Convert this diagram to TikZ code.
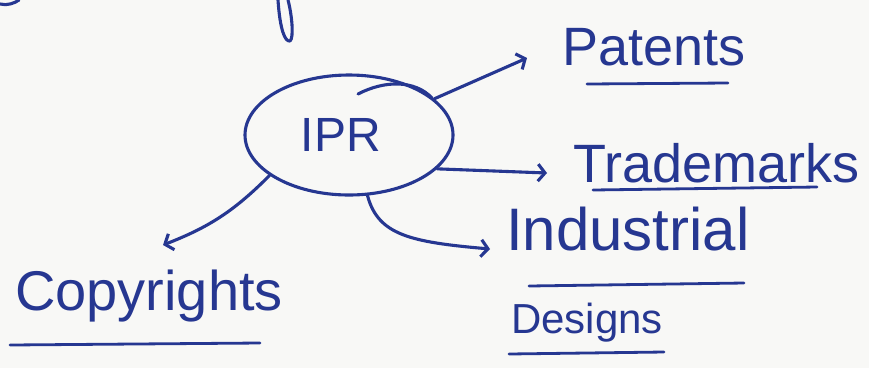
\documentclass[tikz,border=0pt]{standalone}
\usepackage{fontspec}
\setmainfont{Liberation Sans}
\usetikzlibrary{shapes.geometric,arrows.meta}
\definecolor{penblue}{RGB}{38,55,145}
\definecolor{paper}{RGB}{248,248,246}
\begin{document}
\begin{tikzpicture}[x=1pt,y=-1pt,
  pen/.style={draw=penblue,line width=3.1pt,line cap=round,line join=round},
  arr/.style={pen,-{Straight Barb[length=7pt,width=17pt]}},
  lbl/.style={text=penblue,inner sep=0pt,anchor=base west},
  uline/.style={draw=penblue,line width=2.8pt,line cap=round}]
\fill[paper] (0,0) rectangle (869,368);
\useasboundingbox (0,0) rectangle (869,368);
% fragments of handwriting at the top edge
\draw[pen] (0,4) .. controls (7,6) and (15,3) .. (19,0);
\draw[pen] (278,0) .. controls (280,30) and (285,42) .. (290,41) .. controls (294,38) and (292,15) .. (288,0);
% central ellipse
\node[pen,ellipse,minimum width=208pt,minimum height=120pt,inner sep=0pt,
      text=penblue,font=\fontsize{48}{54}\selectfont] (ipr) at (349,135) {\kern-16pt IPR};
\draw[pen] (358,94) .. controls (385,80) and (415,80) .. (432,98);
% labels
\node[lbl,font=\fontsize{54}{60}\selectfont] (pat) at (562,65) {Patents};
\node[lbl,font=\fontsize{54}{60}\selectfont] (tm) at (573,182) {Trademarks};
\node[lbl,font=\fontsize{60}{66}\selectfont] (ind) at (506,250) {Industrial};
\node[lbl,font=\fontsize{42}{48}\selectfont] (des) at (511,333) {Designs};
\node[lbl,font=\fontsize{56}{62}\selectfont] (cop) at (15,310) {Copyrights};
% underlines
\draw[uline] (587,84) -- (728,83);
\draw[uline] (593,190) -- (817,187);
\draw[uline] (529,286) -- (744,283);
\draw[uline] (509,354) -- (664,352);
\draw[uline] (10,345) -- (260,343);
% connectors
\draw[arr] (ipr.23) -- ([xshift=-35pt,yshift=7pt]pat.base west);
\draw[arr] (ipr.-21) -- ([xshift=-26pt,yshift=9pt]tm.base west);
\draw[arr] (ipr.-73) .. controls (378,235) and (410,242) .. ([xshift=-16pt,yshift=1pt]ind.base west);
\draw[arr] (ipr.207) to[bend left=12] ([xshift=148pt,yshift=65pt]cop.base west);
\end{tikzpicture}
\end{document}
